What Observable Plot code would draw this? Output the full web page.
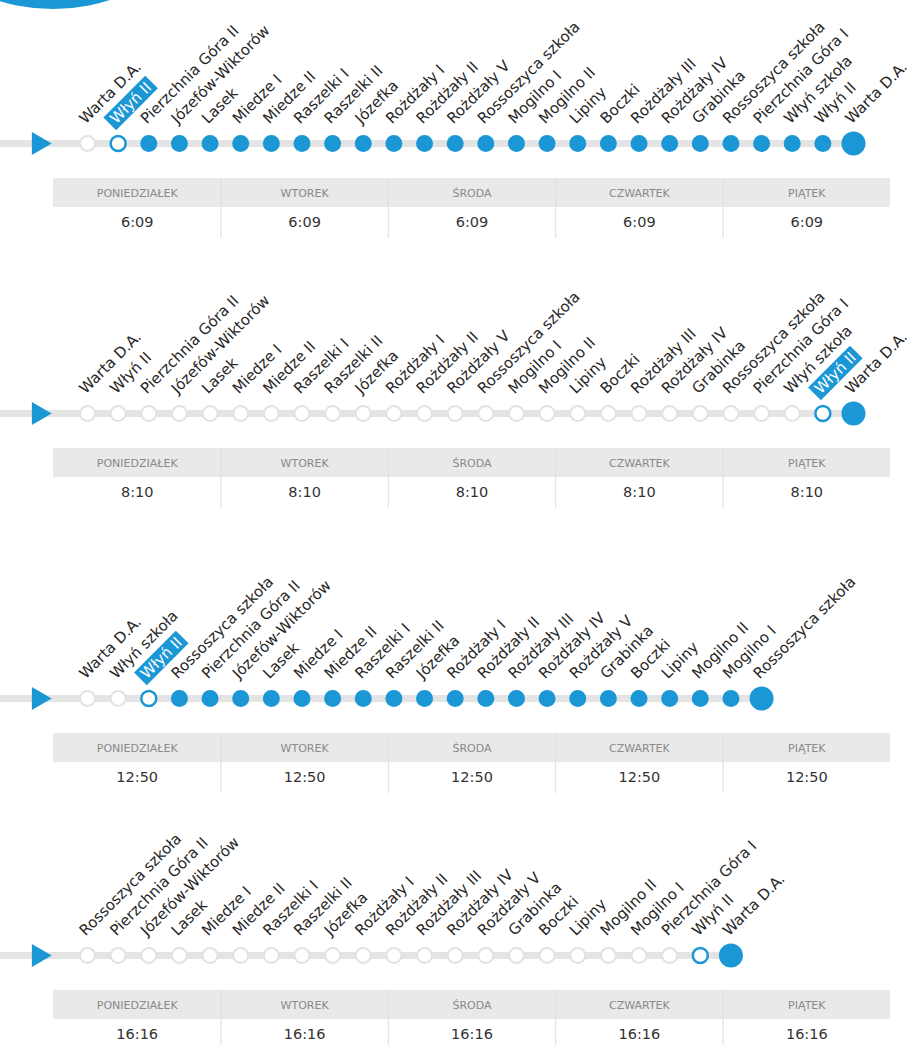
<!DOCTYPE html>
<html><head><meta charset="utf-8">
<script src="https://cdn.jsdelivr.net/npm/d3@7"></script>
<script src="https://cdn.jsdelivr.net/npm/@observablehq/plot@0.6"></script>
<style>
html,body{margin:0;padding:0;background:#fff;}
#wrap{position:relative;width:913px;height:1045px;overflow:hidden;background:#fff;font-family:"DejaVu Sans",sans-serif;}
.blk{position:absolute;left:0;}
#badge{position:absolute;left:-132px;top:-361px;width:370px;height:370px;border-radius:50%;background:#1b97d5;}
</style></head><body><div id="wrap"><div id="badge"></div></div>
<script>
// ---------- data ----------
const routeMorning = ["Warta D.A.", "Włyń II", "Pierzchnia Góra II", "Józefów-Wiktorów", "Lasek", "Miedze I", "Miedze II", "Raszelki I", "Raszelki II", "Józefka", "Rożdżały I", "Rożdżały II", "Rożdżały V", "Rossoszyca szkoła", "Mogilno I", "Mogilno II", "Lipiny", "Boczki", "Rożdżały III", "Rożdżały IV", "Grabinka", "Rossoszyca szkoła", "Pierzchnia Góra I", "Włyń szkoła", "Włyń II", "Warta D.A."];
const routeNoon = ["Warta D.A.", "Włyń szkoła", "Włyń II", "Rossoszyca szkoła", "Pierzchnia Góra II", "Józefów-Wiktorów", "Lasek", "Miedze I", "Miedze II", "Raszelki I", "Raszelki II", "Józefka", "Rożdżały I", "Rożdżały II", "Rożdżały III", "Rożdżały IV", "Rożdżały V", "Grabinka", "Boczki", "Lipiny", "Mogilno II", "Mogilno I", "Rossoszyca szkoła"];
const routeAfternoon = ["Rossoszyca szkoła", "Pierzchnia Góra II", "Józefów-Wiktorów", "Lasek", "Miedze I", "Miedze II", "Raszelki I", "Raszelki II", "Józefka", "Rożdżały I", "Rożdżały II", "Rożdżały III", "Rożdżały IV", "Rożdżały V", "Grabinka", "Boczki", "Lipiny", "Mogilno II", "Mogilno I", "Pierzchnia Góra I", "Włyń II", "Warta D.A."];
const routes = [routeMorning, routeMorning, routeNoon, routeAfternoon];
const boardingStop = [1, 24, 2, 20];          // index of "Włyń II" in each route
const highlightBoarding = [true, true, true, false];
const days = ["PONIEDZIAŁEK", "WTOREK", "ŚRODA", "CZWARTEK", "PIĄTEK"];
const departures = [
  ["6:09", "6:09", "6:09", "6:09", "6:09"],
  ["8:10", "8:10", "8:10", "8:10", "8:10"],
  ["12:50", "12:50", "12:50", "12:50", "12:50"],
  ["16:16", "16:16", "16:16", "16:16", "16:16"]
];

// ---------- layout & style ----------
const BLUE = "#1b97d5";
const lineY = [143, 413, 698, 955];
const ROUTE_H = 170, ROUTE_LINE = 150;
const wrap = document.getElementById("wrap");
const FONT = "DejaVu Sans";

function routePlot(s) {
  const names = routes[s];
  const last = names.length - 1;
  const b = boardingStop[s];
  const stops = names.map((name, i) => ({
    name, i,
    state: i < b ? "passed" : i === b ? "board" : i === last ? "end" : "ahead",
    hl: highlightBoarding[s] && i === b
  }));
  const labelOpts = {x: "i", y: 0, text: "name", rotate: -45, textAnchor: "start", lineAnchor: "bottom", dx: -2, dy: -19, fontSize: 15};
  return Plot.plot({
    width: 913, height: ROUTE_H,
    marginLeft: 87, marginRight: 60, marginTop: 0, marginBottom: 0,
    x: {domain: [0, 25], axis: null},
    y: {domain: [0, 1], range: [ROUTE_LINE, ROUTE_LINE - 1], axis: null},
    style: {fontFamily: FONT, overflow: "visible", background: "transparent"},
    marks: [
      Plot.ruleY([0], {x1: -3, x2: last, stroke: "#e4e4e4", strokeWidth: 7}),
      Plot.dot([-1.6], {x: d => d, y: 0, symbol: "triangle", r: 8.5, rotate: 90, fill: BLUE}),
      Plot.dot(stops.filter(d => d.state === "passed"), {x: "i", y: 0, r: 7.5, fill: "white", stroke: "#e2e2e2", strokeWidth: 2}),
      Plot.dot(stops.filter(d => d.state === "board"), {x: "i", y: 0, r: 7.5, fill: "white", stroke: BLUE, strokeWidth: 2.5}),
      Plot.dot(stops.filter(d => d.state === "ahead"), {x: "i", y: 0, r: 8.5, fill: BLUE}),
      Plot.dot(stops.filter(d => d.state === "end"), {x: "i", y: 0, r: 12, fill: BLUE}),
      Plot.text(stops.filter(d => !d.hl), {...labelOpts, fill: "#262626"}),
      Plot.text(stops.filter(d => d.hl), {...labelOpts, fill: "white", ariaLabel: () => "highlight"})
    ]
  });
}

function tablePlot(s) {
  const rows = days.map((day, i) => ({day, i, time: departures[s][i]}));
  return Plot.plot({
    width: 913, height: 60,
    marginLeft: 53, marginRight: 23, marginTop: 0, marginBottom: 0,
    x: {domain: [0, days.length], axis: null},
    y: {type: "band", domain: ["head", "time"], range: [0, 58], padding: 0, axis: null},
    style: {fontFamily: FONT, background: "transparent"},
    marks: [
      Plot.barX(rows, {x1: "i", x2: d => d.i + 1, y: () => "head", fill: "#e9e9e9"}),
      Plot.ruleX(rows.slice(1), {x: "i", stroke: "#dcdcdc", strokeWidth: 1}),
      Plot.text(rows, {x: d => d.i + 0.5, y: () => "head", text: "day", fill: "#8a8a8a", fontSize: 11}),
      Plot.text(rows, {x: d => d.i + 0.5, y: () => "time", text: "time", fill: "#333", fontSize: 14.5})
    ]
  });
}

routes.forEach((_, s) => {
  const r = routePlot(s);
  r.classList.add("blk");
  r.style.top = (lineY[s] - ROUTE_LINE) + "px";
  wrap.appendChild(r);
  const t = tablePlot(s);
  t.classList.add("blk");
  t.style.top = (lineY[s] + 35) + "px";
  wrap.appendChild(t);
  // blue box behind highlighted label
  r.querySelectorAll('text[aria-label="highlight"]').forEach(el => {
    const bb = el.getBBox();
    const rect = document.createElementNS("http://www.w3.org/2000/svg", "rect");
    rect.setAttribute("x", bb.x - 4);
    rect.setAttribute("y", bb.y);
    rect.setAttribute("width", bb.width + 8);
    rect.setAttribute("height", bb.height);
    const tr = el.getAttribute("transform");
    if (tr) rect.setAttribute("transform", tr);
    rect.setAttribute("fill", BLUE);
    el.parentNode.insertBefore(rect, el);
  });
});
</script></body></html>
